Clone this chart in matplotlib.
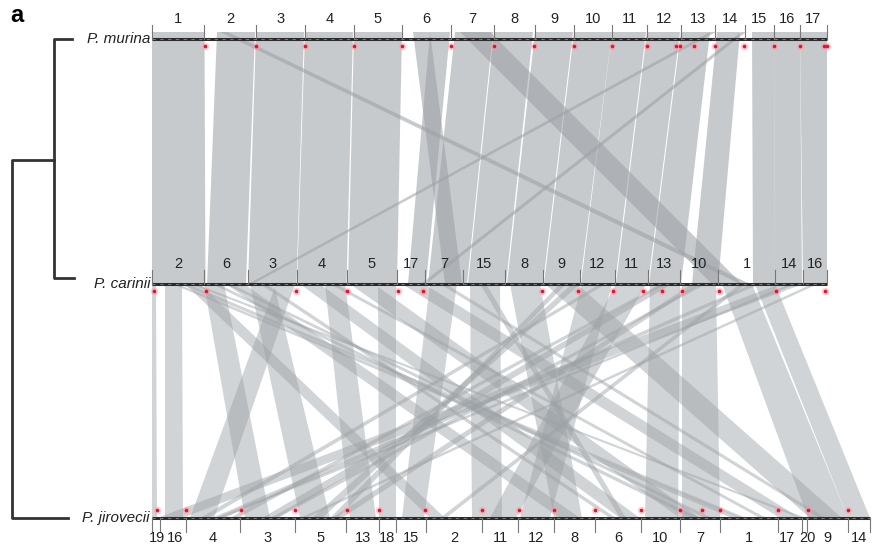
import matplotlib.pyplot as plt
import numpy as np

# chromosome names and sizes (units of 10 kb), in track order
murina_chroms = [str(i) for i in range(1, 18)]
murina_len = [52, 52, 49, 49, 48, 49, 43, 41, 39, 38, 35, 34, 34, 30, 29, 26, 27]

carinii_chroms = ['2', '6', '3', '4', '5', '17', '7', '15', '8', '9',
                  '12', '11', '13', '10', '1', '14', '16']
carinii_len = [52, 44, 49, 50, 50, 28, 38, 42, 38, 37, 35, 33, 32, 38, 57, 28, 24]

jirovecii_chroms = ['19', '16', '4', '3', '5', '13', '18', '15', '2', '11',
                    '12', '8', '6', '10', '7', '1', '17', '20', '9', '14']
jirovecii_len = [8, 26, 54, 55, 51, 33, 17, 30, 56, 36,
                 36, 41, 46, 39, 40, 58, 24, 5, 41, 22]

# centromere positions along each concatenated genome (10 kb units)
murina_cen = [53, 104, 153, 202, 250, 299, 342, 382, 422, 460, 495,
              524, 528, 542, 563, 592, 622, 648, 672, 675]
carinii_cen = [2, 54, 144, 195, 246, 271, 390, 426, 461, 491, 510, 530, 567, 624, 673]
jirovecii_cen = [5, 34, 89, 143, 195, 227, 273, 330, 367, 402, 443,
                 489, 528, 550, 568, 626, 656, 696]

# syntenic blocks: (start, end) on the upper genome, (start, end) on the lower genome
murina_carinii = [
    (0, 52.5, 0, 53.5),
    (65, 103, 55, 94),
    (104, 152, 96, 144.5),
    (153, 201, 145, 194.5),
    (202, 250, 196, 245),
    (278, 298, 256, 274),
    (261, 278, 293, 310),
    (303, 341, 276, 315),
    (342, 381, 316, 354),
    (383, 421, 355, 391),
    (422, 460, 392, 428),
    (460, 494, 429, 463),
    (495, 528, 464, 496),
    (529, 558, 497, 529),
    (565, 588, 540, 566),
    (600, 622, 601, 623),
    (622, 648, 623, 650),
    (648, 675, 651, 675),
    (68, 76, 588, 598),
    (308, 338, 560, 590),
    (558, 564, 96, 101),
    (589, 594, 269, 274),
]

carinii_jirovecii = [
    (0, 4, 0, 5),
    (13, 30, 13, 31),
    (33, 48, 278, 293),
    (52, 72, 93, 118),
    (74, 92, 408, 428),
    (98, 122, 148, 178),
    (124, 143, 38, 62),
    (148, 168, 468, 488),
    (173, 193, 198, 224),
    (198, 222, 528, 548),
    (226, 244, 227, 244),
    (250, 272, 628, 648),
    (278, 305, 250, 272),
    (318, 348, 320, 350),
    (358, 388, 402, 430),
    (393, 425, 658, 690),
    (430, 460, 368, 398),
    (464, 494, 338, 364),
    (498, 528, 493, 526),
    (530, 564, 530, 568),
    (570, 600, 656, 696),
    (603, 623, 696, 718),
    (628, 651, 5, 30),
    (510, 520, 110, 125),
    (600, 608, 60, 72),
    (20, 26, 580, 590),
    (60, 66, 540, 548),
    (420, 428, 160, 170),
    (540, 548, 180, 190),
    (28, 36, 588, 594),
    (38, 44, 648, 654),
    (73, 79, 553, 560),
    (108, 114, 458, 464),
    (448, 454, 48, 56),
    (508, 514, 78, 86),
    (548, 554, 118, 126),
    (638, 644, 63, 70),
    (660, 666, 148, 154),
    (408, 414, 178, 186),
    (288, 294, 668, 674),
    (178, 184, 608, 614),
    (328, 334, 468, 474),
    (588, 594, 288, 294),
]

# small sideways nudges for labels of very short chromosomes
label_nudge = {'19': 1, '16': 2, '17': -3, '20': 3}

TRACK_X0 = 152
Y_MUR, Y_CAR, Y_JIR = 39, 284, 518
RIBBON = '#9aa0a4'


def boundaries(lengths):
    return np.concatenate([[0], np.cumsum(lengths)])


def draw_ribbons(ax, blocks, y_top, y_bot, alpha):
    for a0, a1, b0, b1 in blocks:
        xs = [TRACK_X0 + a0, TRACK_X0 + a1, TRACK_X0 + b1, TRACK_X0 + b0]
        ys = [y_top, y_top, y_bot, y_bot]
        ax.fill(xs, ys, color=RIBBON, alpha=alpha, lw=0)


def draw_track(ax, names, lengths, cens, y, name, label_above=True, nudge=None):
    nudge = nudge or {}
    b = boundaries(lengths) + TRACK_X0
    ax.plot([b[0], b[-1]], [y, y], color='#2b2b2b', lw=2.2, solid_capstyle='butt', zorder=3)
    ax.plot([b[0], b[-1]], [y, y], color='#777777', lw=0.8, dashes=(3, 4), zorder=3)
    sign = -1 if label_above else 1
    for xb in b:
        ax.plot([xb, xb], [y, y + sign * 14], color='#777777', lw=0.8, zorder=3)
    for nm, c in zip(names, (b[:-1] + b[1:]) / 2):
        ax.text(c + nudge.get(nm, 0), y + sign * 20, nm, ha='center', va='center',
                fontsize=10.5, color='#222222', zorder=4)
    cy = y + 7 if label_above else y - 8
    xc = TRACK_X0 + np.array(cens)
    ax.scatter(xc, np.full_like(xc, cy, dtype=float), s=30, color='#ff9aa6', alpha=0.45, lw=0, zorder=4)
    ax.scatter(xc, np.full_like(xc, cy, dtype=float), s=7, color='#e3142c', lw=0, zorder=5)
    ax.text(TRACK_X0 - 2, y, name, ha='right', va='center', fontsize=11,
            style='italic', color='#222222', zorder=4)


plt.rcParams['font.family'] = ['Liberation Sans', 'DejaVu Sans']
fig = plt.figure(figsize=(8.73, 5.52), dpi=100)
ax = fig.add_axes([0, 0, 1, 1])
ax.set_xlim(0, 873)
ax.set_ylim(552, 0)
ax.axis('off')

draw_ribbons(ax, murina_carinii, Y_MUR - 7, Y_CAR, 0.55)
draw_ribbons(ax, carinii_jirovecii, Y_CAR, Y_JIR, 0.45)

draw_track(ax, murina_chroms, murina_len, murina_cen, Y_MUR, 'P. murina')
draw_track(ax, carinii_chroms, carinii_len, carinii_cen, Y_CAR, 'P. carinii')
draw_track(ax, jirovecii_chroms, jirovecii_len, jirovecii_cen, Y_JIR, 'P. jirovecii',
           label_above=False, nudge=label_nudge)

# species tree
tree = dict(color='#333333', lw=2, solid_capstyle='projecting')
ax.plot([72, 54, 54, 74], [Y_MUR, Y_MUR, 278, 278], **tree)
ax.plot([54, 12, 12, 68], [160, 160, Y_JIR, Y_JIR], **tree)

ax.text(10, 15, 'a', fontsize=17, fontweight='bold', ha='left', va='center')

fig.savefig('out.png', dpi=100)
